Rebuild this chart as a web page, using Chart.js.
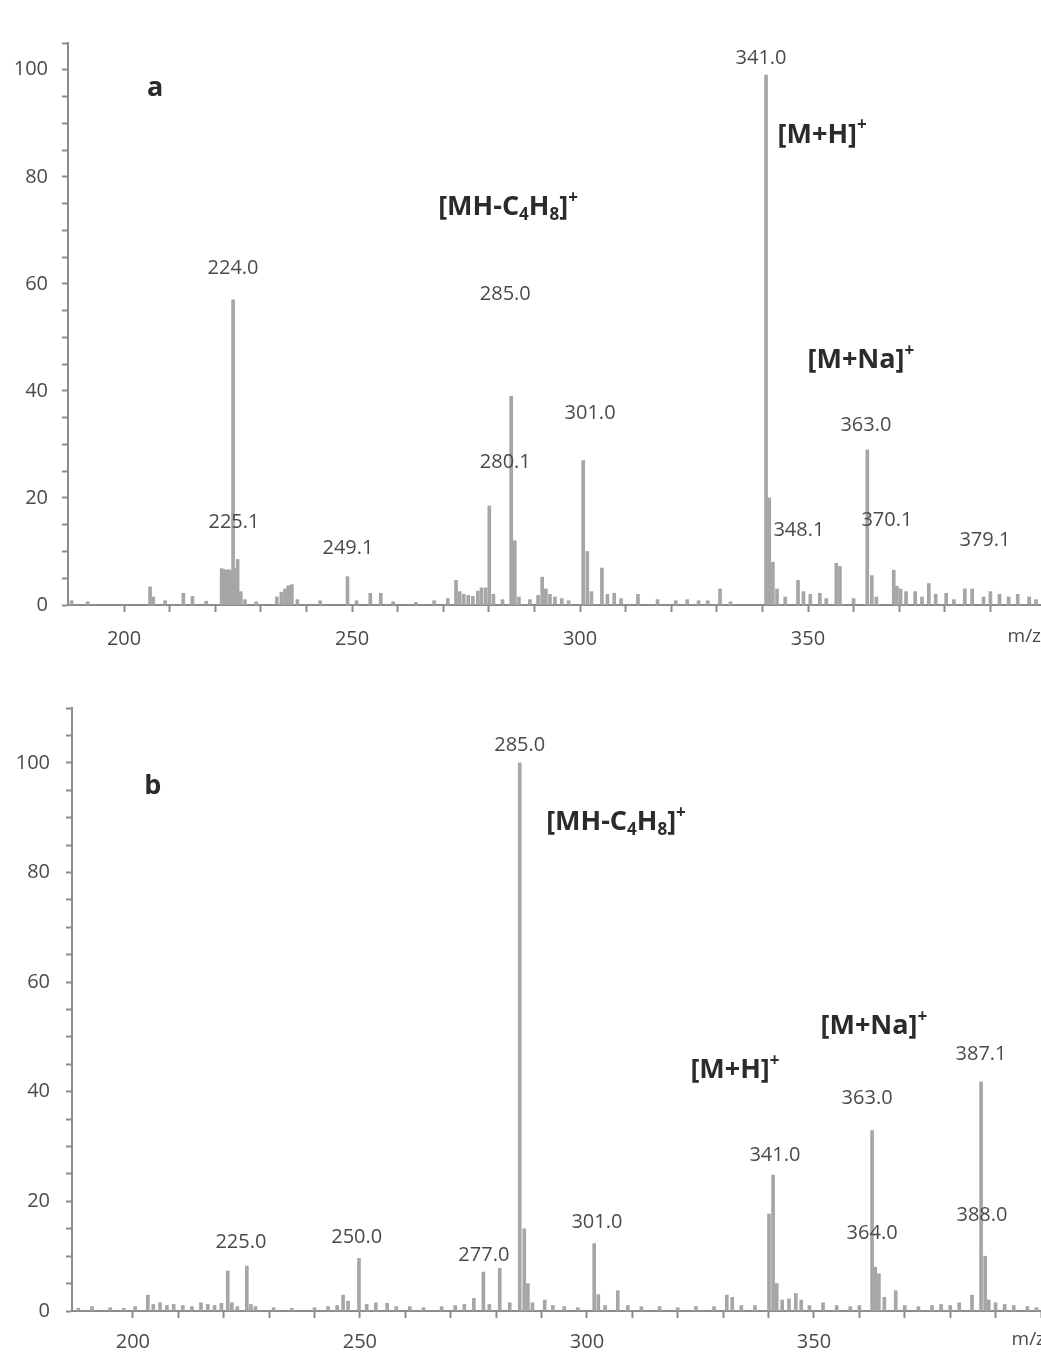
<!DOCTYPE html>
<html>
<head>
<meta charset="utf-8">
<script src="https://cdn.jsdelivr.net/npm/chart.js@4"></script>
<style>
  body { margin: 0; background: #fff; width: 1041px; height: 1353px; position: relative; overflow: hidden; }
  canvas { position: absolute; left: 0; }
  #spectrumA { top: 0; }
  #spectrumB { top: 680px; }
</style>
</head>
<body>
<canvas id="spectrumA" width="1041" height="660"></canvas>
<canvas id="spectrumB" width="1041" height="673"></canvas>
<script>
// panel a: m/z and relative intensity (%)
const mzA = [188.5, 192, 205.7, 206.4, 209, 213, 215, 218, 221.4, 221.9, 222.4, 222.9, 223.4, 223.9, 224.4, 224.9,
  225.6, 226.5, 229, 233.5, 234.5, 235.3, 236, 236.8, 238, 243, 249, 251, 254, 256.3, 259, 264, 268, 271, 272.8,
  273.6, 274.5, 275.5, 276.5, 277.6, 278.4, 279.3, 280.1, 281, 283, 284.9, 285.7, 286.6, 289, 290.8, 291.7, 292.5,
  293.4, 294.5, 296, 297.5, 300.7, 301.6, 302.5, 304.8, 306, 307.5, 309, 312.7, 317, 321, 323.5, 326, 328, 330.7,
  333, 340.8, 341.5, 342.3, 343.2, 345, 347.8, 349, 350.5, 352.6, 354, 356.2, 357, 360, 363, 364, 365, 368.8,
  369.5, 370.3, 371.5, 373.5, 375, 376.5, 378, 380.3, 382, 384.4, 386, 388.5, 390, 392, 394, 396, 398.5, 400];
const intA = [0.8, 0.6, 3.4, 1.5, 0.8, 2.2, 1.6, 0.7, 6.8, 6.6, 6.5, 6.6, 6.4, 57, 6.8, 8.5,
  2.5, 1.0, 0.6, 1.5, 2.4, 3.0, 3.6, 3.8, 1.0, 0.8, 5.3, 0.8, 2.2, 2.2, 0.6, 0.5, 0.8, 1.2, 4.6,
  2.5, 2.0, 1.8, 1.6, 2.6, 3.2, 3.2, 18.5, 2.0, 1.0, 39, 12, 1.5, 1.0, 1.8, 5.2, 3.0,
  2.0, 1.5, 1.2, 0.8, 27, 10, 2.5, 6.9, 2.0, 2.2, 1.2, 2.0, 1.0, 0.8, 1.0, 0.8, 0.8, 3.0,
  0.6, 99, 20, 8, 3, 1.5, 4.6, 2.5, 2.0, 2.2, 1.2, 7.8, 7.2, 1.2, 29, 5.5, 1.5, 6.5,
  3.5, 3.0, 2.5, 2.5, 1.5, 4.0, 2.0, 2.2, 1.0, 3.0, 3.0, 1.5, 2.5, 2.0, 1.5, 2.0, 1.5, 1.0];

// panel b
const mzB = [188, 191, 195, 198, 200.5, 203.3, 204.5, 206, 207.5, 209, 211, 213, 215, 216.5, 218, 219.5, 220.9,
  221.8, 223, 225.1, 226, 227, 231, 235, 240, 243, 245, 246.3, 247.4, 249.8, 251.5, 253.5, 256, 258, 261, 264,
  268, 271, 273, 275.1, 277.2, 278.5, 280.8, 283, 285.2, 286.2, 287, 288, 290.7, 292.5, 295, 298, 301.6, 302.5,
  304, 306.8, 309, 312, 316, 320, 324, 328, 330.8, 332, 334, 337, 340.1, 341, 341.8, 343, 344.5, 346, 347.2,
  349, 352, 355, 358, 360, 362.8, 363.5, 364.3, 365.5, 368, 370, 373, 376, 378, 380, 382, 384.8, 386.8, 387.7,
  388.5, 390, 392, 394, 397, 399];
const intB = [0.5, 0.8, 0.6, 0.5, 0.8, 2.9, 1.2, 1.5, 1.0, 1.2, 1.0, 0.8, 1.5, 1.2, 1.0, 1.4, 7.3,
  1.5, 0.8, 8.2, 1.2, 0.8, 0.6, 0.5, 0.6, 0.8, 1.0, 2.9, 1.8, 9.6, 1.2, 1.5, 1.4, 0.8, 0.8, 0.6,
  0.8, 1.0, 1.2, 2.3, 7.1, 1.2, 7.8, 1.5, 100, 15, 5, 1.5, 2.0, 1.0, 0.8, 0.6, 12.3, 3.0,
  1.0, 3.7, 1.0, 0.8, 0.8, 0.6, 0.8, 0.8, 2.9, 2.5, 1.0, 1.0, 17.7, 24.8, 5, 2, 2.2, 3.2, 2.0,
  1.0, 1.5, 1.0, 0.8, 1.0, 32.9, 8, 6.8, 2.5, 3.7, 1.0, 0.8, 1.0, 1.2, 1.0, 1.5, 2.9, 41.8, 10,
  2.0, 1.5, 1.2, 1.0, 0.8, 0.6];

const xTickLabels = [200, 250, 300, 350];
const yTickLabels = [0, 20, 40, 60, 80, 100];

const peakLabelsA = ['341.0', '224.0', '285.0', '301.0', '280.1', '363.0', '225.1', '249.1', '348.1', '370.1', '379.1'];
const peakLabelsB = ['285.0', '387.1', '363.0', '341.0', '301.0', '225.0', '250.0', '277.0', '364.0', '388.0'];
// ion names: _ = subscript, ^ = superscript
const ionLabelsA = ['a', '[M+H]^+', '[MH-C_4H_8]^+', '[M+Na]^+'];
const ionLabelsB = ['b', '[MH-C_4H_8]^+', '[M+H]^+', '[M+Na]^+'];

// label anchors in data units (m/z, %)
const peakAtA = [[339.7, 102.1], [223.9, 62.9], [283.6, 58.0], [302.2, 35.8], [283.6, 26.7], [362.7, 33.6],
  [224.1, 15.5], [249.1, 10.6], [348.0, 14.0], [367.3, 15.9], [388.8, 12.1]];
const peakAtB = [[285.2, 103.2], [386.8, 46.8], [361.7, 38.8], [341.4, 28.4], [302.2, 16.1], [223.8, 12.5],
  [249.3, 13.4], [277.3, 10.2], [362.8, 14.1], [387.0, 17.5]];
const ionAtA = [[206.8, 97.0], [353.1, 88.2], [284.2, 74.6], [361.6, 46.1]];
const ionAtB = [[204.4, 96.1], [306.4, 89.5], [332.6, 44.3], [363.2, 52.3]];

const FONT = '"Open Sans", "DejaVu Sans", sans-serif';

function drawRich(ctx, str, cx, cy, size) {
  const parts = [];
  for (let i = 0; i < str.length; i++) {
    const c = str[i];
    if ((c === '_' || c === '^') && i + 1 < str.length) {
      parts.push({ t: str[i + 1], k: c });
      i++;
    } else {
      parts.push({ t: c, k: '' });
    }
  }
  const fontFor = k => `bold ${k ? Math.round(size * 0.62) : size}px ${FONT}`;
  let w = 0;
  parts.forEach(p => { ctx.font = fontFor(p.k); p.w = ctx.measureText(p.t).width; w += p.w; });
  let x = cx - w / 2;
  ctx.textAlign = 'left';
  ctx.textBaseline = 'alphabetic';
  const base = cy + size * 0.36;
  parts.forEach(p => {
    ctx.font = fontFor(p.k);
    let y = base;
    if (p.k === '_') y += size * 0.18;
    if (p.k === '^') y -= size * 0.45;
    ctx.fillText(p.t, x, y);
    x += p.w;
  });
}

function spectrum(id, mz, inten, o) {
  const textPlugin = {
    id: 'spectrumText',
    afterDraw(chart) {
      const { ctx, scales: { x, y }, chartArea } = chart;
      ctx.save();
      ctx.fillStyle = '#4a4a4a';
      ctx.font = `20px ${FONT}`;
      ctx.textAlign = 'center';
      ctx.textBaseline = 'middle';
      o.peakLabels.forEach((t, i) => {
        ctx.fillText(t, x.getPixelForValue(o.peakAt[i][0]), y.getPixelForValue(o.peakAt[i][1]));
      });
      ctx.fillStyle = '#2b2b2b';
      o.ionLabels.forEach((t, i) => {
        drawRich(ctx, t, x.getPixelForValue(o.ionAt[i][0]), y.getPixelForValue(o.ionAt[i][1]), 27);
      });
      ctx.fillStyle = '#4a4a4a';
      ctx.font = `19px ${FONT}`;
      ctx.textAlign = 'right';
      ctx.fillText('m/z', chartArea.right + o.mzShift, chartArea.bottom + o.mzOffset);
      ctx.restore();
    }
  };

  return new Chart(document.getElementById(id), {
    type: 'bar',
    data: {
      datasets: [{
        data: mz.map((m, i) => ({ x: m, y: inten[i] })),
        backgroundColor: '#a6a6a6',
        barThickness: 3,
        grouped: false
      }]
    },
    options: {
      responsive: false,
      animation: false,
      devicePixelRatio: 1,
      layout: { padding: { top: o.padTop, right: 0, left: 0, bottom: 0 } },
      plugins: { legend: { display: false }, tooltip: { enabled: false } },
      scales: {
        x: {
          type: 'linear',
          offset: false,
          min: o.xMin,
          max: o.xMax,
          afterBuildTicks: s => { s.ticks = s.ticks.filter(t => Math.abs(t.value % 10) < 1e-6); },
          afterFit: s => { s.height = o.xAxisHeight; s.paddingLeft = 0; s.paddingRight = 0; },
          ticks: {
            stepSize: 10,
            autoSkip: false,
            maxRotation: 0,
            padding: o.xPad,
            color: '#4a4a4a',
            font: { family: FONT, size: 20 },
            callback: v => xTickLabels.includes(v) ? String(v) : ''
          },
          grid: { drawOnChartArea: false, offset: false, tickLength: 7, color: '#8c8c8c', tickWidth: 2 },
          border: { color: '#8c8c8c', width: 2 }
        },
        y: {
          min: 0,
          max: o.yMax,
          afterBuildTicks: s => { s.ticks = s.ticks.filter(t => Math.abs(t.value % 5) < 1e-6); },
          afterFit: s => { s.width = o.yAxisWidth; },
          ticks: {
            stepSize: 5,
            autoSkip: false,
            padding: o.yPad,
            color: '#4a4a4a',
            font: { family: FONT, size: 20 },
            callback: v => yTickLabels.includes(v) ? String(v) : ''
          },
          grid: { drawOnChartArea: false, tickLength: 6, color: '#8c8c8c', tickWidth: 2 },
          border: { color: '#8c8c8c', width: 2 }
        }
      }
    },
    plugins: [textPlugin]
  });
}

spectrum('spectrumA', mzA, intA, {
  xMin: 187.7, xMax: 401.1, yMax: 105, padTop: 43, yAxisWidth: 68, xAxisHeight: 55, xPad: 15, yPad: 14,
  mzOffset: 37, mzShift: 0,
  peakLabels: peakLabelsA, peakAt: peakAtA, ionLabels: ionLabelsA, ionAt: ionAtA
});

spectrum('spectrumB', mzB, intB, {
  xMin: 186.6, xMax: 400, yMax: 110, padTop: 15, yAxisWidth: 72, xAxisHeight: 42, xPad: 12, yPad: 16,
  mzOffset: 34, mzShift: 4,
  peakLabels: peakLabelsB, peakAt: peakAtB, ionLabels: ionLabelsB, ionAt: ionAtB
});
</script>
</body>
</html>
